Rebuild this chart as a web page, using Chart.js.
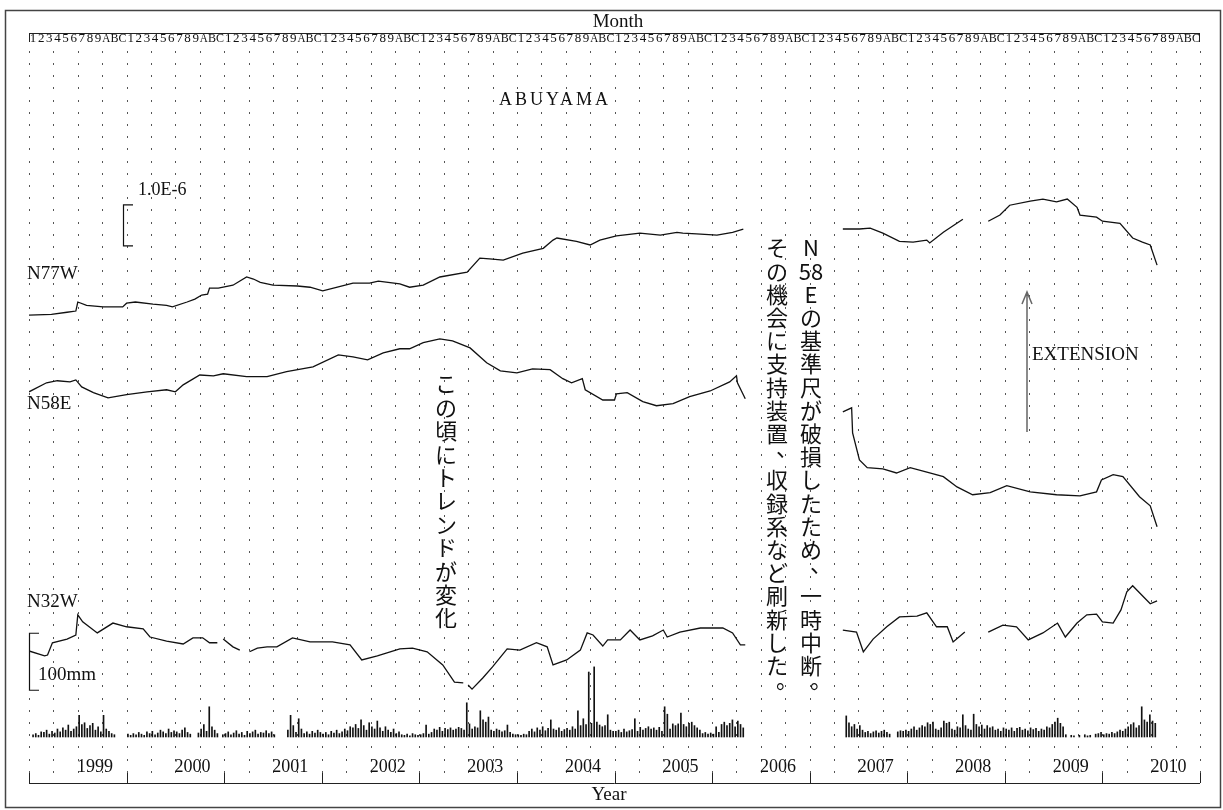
<!DOCTYPE html>
<html>
<head>
<meta charset="utf-8">
<script src="https://cdn.jsdelivr.net/npm/chart.js@4"></script>
<style>
  body { margin: 0; background: #fff; }
  canvas { display: block; }
</style>
</head>
<body>
<canvas id="chart" width="1223" height="810"></canvas>
<script>
// strain traces, time in decimal years, strain change in 1.0E-6 (extension up)
const n77wT = [1999.00,1999.23,1999.39,1999.48,1999.50,1999.59,1999.76,1999.96,2000.00,2000.09,
  2000.27,2000.41,2000.47,2000.62,2000.70,2000.77,2000.83,2000.85,2000.94,2001.09,
  2001.23,2001.30,2001.37,2001.50,2001.75,2001.88,2002.01,2002.16,2002.32,2002.49,
  2002.58,2002.80,2002.90,2003.04,2003.21,2003.49,2003.62,2003.72,2003.86,2004.06,
  2004.27,2004.37,2004.41,2004.61,2004.75,2004.85,2005.02,2005.26,2005.47,2005.64,
  2005.70,2005.84,2006.05,2006.21,2006.32,2006.80,2007.34,2007.51,2007.62,2007.75,
  2007.92,2008.06,2008.20,2008.23,2008.37,2008.57,2008.70,2008.83,2008.95,2009.05,
  2009.26,2009.39,2009.53,2009.64,2009.74,2009.77,2009.94,2010.00,2010.18,2010.31,
  2010.41,2010.49,2010.56];
const n77wV = [0,0.02,0.07,0.10,0.32,0.24,0.20,0.20,0.29,0.32,
  0.27,0.24,0.20,0.32,0.39,0.49,0.51,0.66,0.66,0.73,
  0.93,0.88,0.80,0.73,0.71,0.68,0.59,0.68,0.78,0.78,
  0.83,0.76,0.68,0.73,0.93,1.05,1.39,1.37,1.34,1.51,
  1.63,1.83,1.88,1.80,1.71,1.83,1.93,2.00,1.95,2.02,
  2.00,1.98,1.95,2.02,2.10,null,2.10,2.10,2.12,2.00,
  1.80,1.78,1.83,1.76,2.02,2.34,null,2.29,2.44,2.68,
  2.78,2.83,2.76,2.83,2.63,2.44,2.39,2.29,2.24,1.88,
  1.78,1.71,1.22];

const n58eT = [1999.00,1999.18,1999.29,1999.42,1999.48,1999.54,1999.66,1999.81,2000.00,2000.21,
  2000.41,2000.50,2000.58,2000.75,2000.89,2000.99,2001.23,2001.44,2001.64,2001.91,
  2002.17,2002.32,2002.47,2002.63,2002.80,2002.90,2003.04,2003.21,2003.34,2003.52,
  2003.69,2003.83,2004.00,2004.16,2004.34,2004.47,2004.56,2004.67,2004.70,2004.88,
  2005.00,2005.02,2005.13,2005.29,2005.43,2005.60,2005.77,2005.98,2006.18,2006.25,
  2006.26,2006.34,2006.80,2007.34,2007.43,2007.44,2007.51,2007.59,2007.75,2007.89,
  2008.03,2008.23,2008.37,2008.51,2008.67,2008.85,2009.02,2009.26,2009.53,2009.77,
  2009.94,2009.99,2010.11,2010.21,2010.38,2010.49,2010.56];
const n58eV = [0,0.22,0.27,0.24,0.29,0.12,-0.02,-0.15,-0.07,0,
  0.05,0,0.17,0.41,0.39,0.44,0.37,0.37,0.49,0.61,
  0.90,0.85,0.78,0.95,1.05,1.05,1.20,1.29,1.24,1.07,
  0.71,0.51,0.46,0.56,0.54,0.32,0.22,0.32,0.05,-0.20,
  -0.20,-0.05,-0.02,-0.24,-0.34,-0.29,-0.12,0.02,0.24,0.39,
  0.22,-0.17,null,-0.49,-0.39,-1.00,-1.66,-1.85,-1.88,-1.98,
  -1.85,-1.98,-2.07,-2.32,-2.51,-2.46,-2.29,-2.44,-2.51,-2.54,
  -2.44,-2.15,-2.02,-2.07,-2.56,-2.78,-3.29];

const n32wT = [1999.00,1999.16,1999.19,1999.24,1999.39,1999.48,1999.50,1999.55,1999.70,1999.86,
  2000.00,2000.17,2000.24,2000.41,2000.58,2000.68,2000.78,2000.85,2000.93,2000.96,
  2000.99,2001.09,2001.16,2001.21,2001.26,2001.34,2001.44,2001.54,2001.70,2001.88,
  2002.11,2002.29,2002.41,2002.57,2002.80,2002.93,2003.08,2003.24,2003.36,2003.45,
  2003.48,2003.50,2003.54,2003.65,2003.75,2003.90,2004.03,2004.20,2004.31,2004.37,
  2004.51,2004.65,2004.72,2004.78,2004.88,2004.93,2005.06,2005.16,2005.26,2005.39,
  2005.50,2005.54,2005.67,2005.88,2006.11,2006.21,2006.29,2006.34,2006.80,2007.34,
  2007.48,2007.55,2007.65,2007.79,2007.92,2008.10,2008.20,2008.30,2008.41,2008.47,
  2008.59,2008.70,2008.83,2008.98,2009.12,2009.24,2009.39,2009.54,2009.62,2009.74,
  2009.84,2009.94,2010.00,2010.11,2010.19,2010.25,2010.31,2010.40,2010.49,2010.56];
const n32wV = [0,-0.12,-0.10,0.20,0.29,0.39,0.88,0.71,0.44,0.68,
  0.59,0.54,0.34,0.24,0.17,0.32,0.32,0.20,0.20,null,
  0.29,0.10,0.02,null,-0.02,0.07,0.10,0.10,0.32,0.22,
  0.22,0.15,-0.22,-0.12,0.05,0.07,-0.02,-0.34,-0.76,-0.78,
  null,-0.83,-0.93,-0.66,-0.39,0.05,0.02,0.20,0.10,-0.34,
  -0.22,0.02,0.44,0.39,0.12,0.27,0.27,0.51,0.27,0.37,
  0.51,0.34,0.46,0.56,0.56,0.44,0.15,0.15,null,0.51,
  0.46,-0.02,0.29,0.59,0.83,0.85,0.93,0.59,0.59,0.22,
  0.46,null,0.46,0.63,0.59,0.27,0.44,0.68,0.34,0.68,
  0.88,0.90,0.71,0.68,1.00,1.44,1.59,1.37,1.15,1.22];

// rainfall (mm), 36 ten-day slots per year
const rainYears = [1999,2000,2001,2002,2003,2004,2005,2006,2007,2008,2009,2010];
const rain1999 = [null,4,6,3,9,8,12,5,10,7,14,9,16,12,21,10,14,18,38,22,25,15,20,24,12,18,9,38,14,10,6,4,null,null,null,null];
const rain2000 = [5,3,6,4,8,5,3,9,6,10,4,7,12,9,6,14,8,11,9,6,12,16,8,5,null,null,7,14,22,10,53,18,12,6,null,4];
const rain2001 = [6,9,4,7,11,5,8,3,10,6,9,12,5,8,7,11,6,9,4,null,null,null,null,12,38,20,8,32,14,6,9,5,10,7,12,8];
const rain2002 = [5,8,4,10,7,12,6,9,14,11,18,16,22,15,30,20,12,25,18,14,28,16,10,18,12,8,14,6,9,4,3,5,2,6,4,3];
const rain2003 = [4,6,21,5,8,14,12,17,10,15,13,16,12,14,17,15,12,60,23,14,18,16,46,30,26,35,12,10,14,12,9,11,21,8,5,4];
const rain2004 = [4,3,5,4,10,14,9,16,12,18,11,15,30,14,12,16,10,13,15,12,18,14,46,20,32,22,114,24,123,26,21,18,20,39,12,10];
const rain2005 = [10,12,8,14,9,11,13,32,10,17,12,15,18,14,16,12,17,10,53,40,14,23,20,23,42,22,18,24,26,20,16,12,6,8,5,7];
const rain2006 = [5,18,8,22,26,20,24,30,18,28,22,16,null,null,null,null,null,null,null,null,null,null,null,null,null,null,null,null,null,null,null,null,null,null,null,null];
const rain2007 = [null,null,null,null,null,null,null,null,null,null,null,null,null,37,25,18,22,14,20,12,8,10,6,9,11,7,10,12,8,5,null,null,9,11,10,12];
const rain2008 = [10,14,18,12,16,20,18,25,22,26,14,12,16,28,24,26,14,12,18,16,39,20,14,12,40,22,18,21,14,20,16,18,12,14,10,16];
const rain2009 = [14,12,16,10,15,17,12,14,11,16,13,15,10,14,12,18,16,22,26,33,24,18,4,null,3,2,null,3,null,4,2,3,null,5,6,8];
const rain2010 = [4,6,5,8,6,9,12,10,14,18,22,25,16,20,53,30,26,39,28,24,null,null,null,null,null,null,null,null,null,null,null,null,null,null,null,null];
const rainByYear = [rain1999,rain2000,rain2001,rain2002,rain2003,rain2004,rain2005,rain2006,rain2007,rain2008,rain2009,rain2010];

const monthLabels = ['1','2','3','4','5','6','7','8','9','A','B','C'];
const yearLabels = [1999,2000,2001,2002,2003,2004,2005,2006,2007,2008,2009,2010];

// trace baselines on the strain axis (1 unit = 1.0E-6)
const offN77W = 11.41;
const offN58E = 9.54;
const offN32W = 3.22;
const strainMax = 18.29;
const dotBase = 0.273, dotStep = 0.2976;

function trace(ts, vs, off){
    let pts = [];
    for(let i = 0; i < ts.length; i++){
        pts.push({x: ts[i], y: vs[i] === null ? null : vs[i] + off});
    }
    return pts;
}

let rainPts = [];
for(let j = 0; j < rainYears.length; j++){
    let arr = rainByYear[j];
    for(let i = 0; i < arr.length; i++){
        if(arr[i] !== null){
            rainPts.push({x: rainYears[j] + (i + 0.5) / 36, y: arr[i]});
        }
    }
}

function lineSet(data){
    return {
        type: 'line', data: data, yAxisID: 'y',
        borderColor: '#111', borderWidth: 1.3,
        pointRadius: 0, tension: 0, spanGaps: false
    };
}

function vertText(ctx, text, cx, cy0, step, size){
    let cells = text.match(/[0-9]+|./g);
    cells.forEach((c, i)=>{
        let cy = cy0 + i * step;
        if(c === '、' || c === '。'){
            ctx.fillText(c, cx + size * 0.45, cy - size * 0.4);
        }
        else{
            ctx.fillText(c, cx, cy);
        }
    });
}

const paper = {
    id: 'paper',
    beforeDatasetsDraw(chart){
        const ctx = chart.ctx;
        const x = chart.scales.x, y = chart.scales.y;
        ctx.save();
        // dotted grid, one column per quarter
        ctx.fillStyle = '#555';
        for(let q = 0; q <= 48; q++){
            let px = Math.round(x.getPixelForValue(1999 + q / 4));
            for(let k = 0; k < 60; k++){
                let py = Math.round(y.getPixelForValue(dotBase + k * dotStep));
                ctx.fillRect(px, py - 1, 1, 2);
            }
        }
        ctx.restore();
    },
    afterDraw(chart){
        const ctx = chart.ctx;
        const x = chart.scales.x, y = chart.scales.y, yr = chart.scales.yRain;
        const a = chart.chartArea;
        ctx.save();

        // outer frame
        ctx.strokeStyle = '#444';
        ctx.lineWidth = 1.5;
        ctx.strokeRect(5.5, 10.5, 1215, 797);

        ctx.strokeStyle = '#222';
        ctx.lineWidth = 1;
        // top month axis
        ctx.beginPath();
        ctx.moveTo(a.left, a.top + 0.5);
        ctx.lineTo(a.right, a.top + 0.5);
        ctx.moveTo(a.left + 0.5, a.top);
        ctx.lineTo(a.left + 0.5, a.top + 9);
        ctx.moveTo(a.right - 0.5, a.top);
        ctx.lineTo(a.right - 0.5, a.top + 9);
        ctx.stroke();

        // bottom year axis
        ctx.beginPath();
        ctx.moveTo(a.left, a.bottom + 0.5);
        ctx.lineTo(a.right, a.bottom + 0.5);
        for(let yy = 1999; yy <= 2011; yy++){
            let px = Math.round(x.getPixelForValue(yy)) + 0.5;
            ctx.moveTo(px, a.bottom);
            ctx.lineTo(px, a.bottom - 10);
        }
        ctx.stroke();

        ctx.fillStyle = '#111';
        ctx.textAlign = 'center';
        ctx.textBaseline = 'middle';

        ctx.font = '13px "Liberation Serif"';
        for(let yy = 0; yy < 12; yy++){
            for(let m = 0; m < 12; m++){
                ctx.fillText(monthLabels[m], x.getPixelForValue(1999 + yy + (m + 0.5) / 12), a.top + 6, 8);
            }
        }

        ctx.font = '18px "Liberation Serif"';
        yearLabels.forEach((yy)=>{
            ctx.fillText(String(yy), x.getPixelForValue(yy + 0.676), 767);
        });

        ctx.font = '19px "Liberation Serif"';
        ctx.fillText('Month', 618, 22);
        ctx.fillText('Year', 609, 795);

        ctx.font = '18px "Liberation Serif"';
        ctx.letterSpacing = '3px';
        ctx.fillText('ABUYAMA', 555, 100);
        ctx.letterSpacing = '0px';

        ctx.textAlign = 'left';
        ctx.font = '19px "Liberation Serif"';
        ctx.fillText('N77W', 27, 274);
        ctx.fillText('N58E', 27, 404);
        ctx.fillText('N32W', 27, 602);
        ctx.fillText('100mm', 38, 675);
        ctx.fillText('EXTENSION', 1032, 355);
        ctx.font = '18px "Liberation Serif"';
        ctx.fillText('1.0E-6', 138, 190);

        // scale bars
        ctx.strokeStyle = '#111';
        ctx.lineWidth = 1.2;
        let sTop = y.getPixelForValue(14.10), sBot = y.getPixelForValue(13.10);
        ctx.beginPath();
        ctx.moveTo(133, sTop); ctx.lineTo(123.5, sTop); ctx.lineTo(123.5, sBot); ctx.lineTo(133, sBot);
        ctx.stroke();
        let rTop = yr.getPixelForValue(182), rBot = yr.getPixelForValue(82);
        ctx.beginPath();
        ctx.moveTo(39, rTop); ctx.lineTo(29.5, rTop); ctx.lineTo(29.5, rBot); ctx.lineTo(39, rBot);
        ctx.stroke();

        // extension arrow
        ctx.strokeStyle = '#666';
        ctx.lineWidth = 1.5;
        ctx.beginPath();
        ctx.moveTo(1027, 432); ctx.lineTo(1027, 292);
        ctx.moveTo(1022, 304); ctx.lineTo(1027, 292); ctx.lineTo(1032, 304);
        ctx.stroke();

        // vertical Japanese notes
        ctx.fillStyle = '#111';
        ctx.textAlign = 'center';
        ctx.font = '22px "Noto Sans CJK JP"';
        vertText(ctx, 'この頃にトレンドが変化', 446, 384, 23.4, 22);
        vertText(ctx, 'N58Eの基準尺が破損したため、一時中断。', 811, 248, 23.2, 22);
        vertText(ctx, 'その機会に支持装置、収録系など刷新した。', 777, 248, 23.2, 22);

        ctx.restore();
    }
};

let chart = new Chart(document.getElementById('chart').getContext('2d'), {
    data: {
        datasets: [
            lineSet(trace(n77wT, n77wV, offN77W)),
            lineSet(trace(n58eT, n58eV, offN58E)),
            lineSet(trace(n32wT, n32wV, offN32W)),
            {
                type: 'bar', data: rainPts, yAxisID: 'yRain',
                backgroundColor: '#111', barThickness: 1, borderWidth: 0
            }
        ]
    },
    options: {
        responsive: false,
        animation: false,
        layout: {padding: {left: 29, right: 23, top: 33, bottom: 27}},
        plugins: {legend: {display: false}, tooltip: {enabled: false}},
        scales: {
            x: {type: 'linear', min: 1999, max: 2011, offset: false, display: false},
            y: {type: 'linear', min: 0, max: strainMax, display: false},
            yRain: {type: 'linear', min: -80.7, max: 1235.1, display: false}
        }
    },
    plugins: [paper]
});
</script>
</body>
</html>
